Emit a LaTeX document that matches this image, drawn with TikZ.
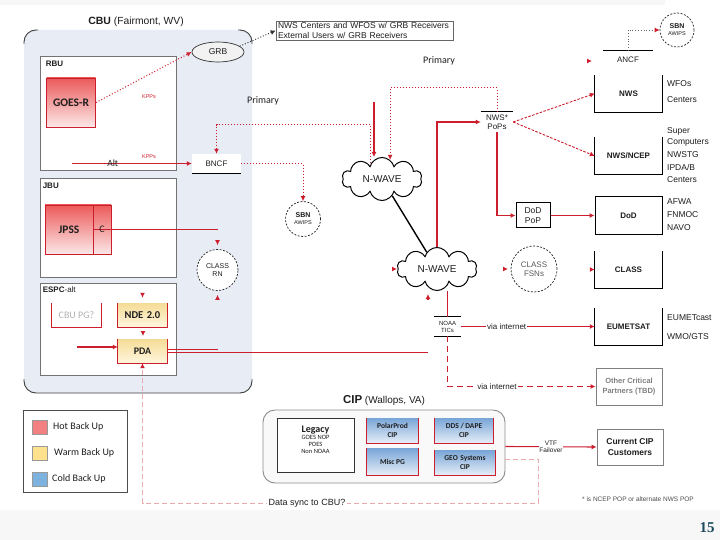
\documentclass[tikz,border=0pt]{standalone}
\usepackage{fontspec}
\setmainfont{Liberation Sans}
\newfontfamily\calfont{Carlito}
\newfontfamily\serfont{Liberation Serif}
\usetikzlibrary{shapes.symbols,shapes.geometric,arrows.meta,calc}
\definecolor{myred}{RGB}{205,30,45}
\definecolor{cbufill}{RGB}{231,236,245}
\definecolor{hottop}{RGB}{236,90,90}
\definecolor{hotbot}{RGB}{252,232,232}
\definecolor{hotleg}{RGB}{242,128,128}
\definecolor{warmtop}{RGB}{245,220,150}
\definecolor{warmbot}{RGB}{255,246,222}
\definecolor{warmleg}{RGB}{255,224,140}
\definecolor{coldtop}{RGB}{120,165,215}
\definecolor{coldbot}{RGB}{230,238,248}
\definecolor{coldleg}{RGB}{125,178,222}
\definecolor{pinkd}{RGB}{235,170,175}
\definecolor{pgnum}{RGB}{30,75,95}
\definecolor{txt}{RGB}{30,30,30}
\newcommand{\fsz}[2]{\fontsize{#1}{#2}\selectfont}
\newcommand{\opentopbox}[2][black]{\draw[#1, line width=1pt] (#2.north west) -- (#2.south west) -- (#2.south east) -- (#2.north east);}
\tikzset{
  rl/.style={draw=myred, line width=1.1pt},
  rtip/.style={-{Latex[length=5pt,width=5pt]}},
  ra/.style={rl, rtip},
  rdots/.style={draw=myred, line width=1pt, dash pattern=on 1pt off 2pt},
  rdash/.style={draw=myred, line width=0.9pt, dash pattern=on 2.5pt off 1.5pt},
  rdashed/.style={draw=myred, line width=1.1pt, dash pattern=on 6pt off 4pt},
  pinkdash/.style={draw=pinkd, line width=1pt, dash pattern=on 5pt off 3pt},
  kdots/.style={draw=black!80, line width=0.9pt, dash pattern=on 1pt off 1.8pt},
  wbox/.style={draw=black!55, fill=white, line width=0.8pt, inner sep=0},
  blabel/.style={anchor=north west, font=\fsz{8}{9}, inner sep=0},
  hotbox/.style={draw=myred, line width=0.9pt, top color=hottop, bottom color=hotbot, inner sep=0, font=\calfont\bfseries\fsz{11.5}{13}},
  warmbox/.style={top color=warmtop, bottom color=warmbot, inner sep=0, minimum width=49pt, minimum height=24pt, font=\calfont\bfseries\fsz{10.5}{12}},
  coldbox/.style={top color=coldtop, bottom color=coldbot, inner sep=0, align=center, font=\calfont\bfseries\fsz{7.5}{8.5}},
  dcirc/.style={circle, draw=black!85, line width=0.7pt, dash pattern=on 2pt off 1.5pt, fill=white, inner sep=0, align=center},
  nwave/.style={cloud, cloud puffs=10, cloud ignores aspect, draw=black, line width=1pt, fill=white, minimum width=80pt, minimum height=43pt, inner sep=0, font=\fsz{10}{12}},
  rbox/.style={minimum width=67pt, minimum height=37pt, inner sep=0, fill=white, font=\bfseries\fsz{8}{9}},
  side/.style={anchor=west, inner sep=0, font=\fsz{8.5}{10}},
  kpp/.style={text=myred, font=\fsz{5.5}{6}, inner sep=0},
  legsq/.style={minimum width=15pt, minimum height=14pt, draw=black!40, line width=0.4pt, inner sep=0},
  legtxt/.style={anchor=west, inner sep=0, font=\calfont\fsz{10}{12}},
  onl/.style={fill=white, inner sep=1pt, font=\fsz{8}{9}}
}
\begin{document}
\begin{tikzpicture}[x=1pt,y=-1pt, every node/.style={text=txt}]
\useasboundingbox (0,0) rectangle (720,540);
\fill[white] (0,0) rectangle (720,540);
\fill[gray!6] (0,510) rectangle (720,540);
\fill[gray!6] (0,0) rectangle (665,5);

% ---------------- CBU ----------------
\node[font=\fsz{10.3}{12}] (cbut) at (136,22) {\textbf{\fsz{10.5}{12}CBU} (Fairmont, WV)};
\fill[cbufill, rounded corners=12pt] (24,30) rectangle (252,393);
\draw[black!75, line width=0.9pt, rounded corners=12pt] (24,44) -- (24,30) -- (38,30);
\draw[black!75, line width=0.9pt, rounded corners=12pt] (238,30) -- (252,30) -- (252,44);
\draw[black!75, line width=0.9pt, rounded corners=12pt] (24,379) -- (24,393) -- (252,393) -- (252,379);

\node[wbox, minimum width=136pt, minimum height=114pt] (rbu) at (108,113) {};
\node[blabel, font=\bfseries\fsz{8}{9}] at ($(rbu.north west)+(6,5)$) {RBU};
\node[hotbox, minimum width=49pt, minimum height=49pt] (goes) at (71,102.5) {GOES-R};
\node[kpp] at (149,97) {KPPs};
\node[kpp] at (149,157) {KPPs};

\node[wbox, minimum width=136pt, minimum height=99pt] (jbu) at (108,227.5) {};
\node[blabel, font=\bfseries\fsz{8}{9}] at ($(jbu.north west)+(3,5)$) {JBU};
\node[hotbox, minimum width=48pt, minimum height=49pt] (jpss) at (69,229.5) {JPSS};
\node[hotbox, minimum width=18pt, minimum height=49pt] (cc) at (102,229.5) {};
\coordinate (jend) at (218,229.5);
\draw[rl] (jpss.east) -- (jend);
\node[font=\calfont\fsz{10}{12}, inner sep=0] at (cc) {C};

\node[wbox, minimum width=136pt, minimum height=92pt] (espc) at (108,329) {};
\node[blabel] at ($(espc.north west)+(3,4)$) {\textbf{ESPC}-alt};
\node[minimum width=49pt, minimum height=24pt, inner sep=0, text=gray!60, font=\calfont\fsz{10}{12}] (cbupg) at (76.5,315) {CBU PG?};
\opentopbox[myred]{cbupg}
\node[warmbox] (nde) at (142.5,315) {NDE\,\,2.0};
\opentopbox[myred]{nde}
\node[warmbox, font=\calfont\bfseries\fsz{10}{12}] (pda) at (142.5,351) {PDA};
\opentopbox[myred]{pda}

% BNCF, GRB
\node[fill=white, minimum width=49pt, minimum height=19pt, inner sep=0, font=\fsz{8}{9}] (bncf) at (216.5,163.5) {BNCF};
\draw[black, line width=1.1pt] (bncf.south west) -- (bncf.south east);
\node[ellipse, draw=black!80, fill=gray!10, line width=0.7pt, minimum width=52pt, minimum height=20pt, inner sep=0, font=\fsz{8.5}{10}] (grb) at (218,52) {GRB};
\node[draw=black!60, line width=0.7pt, inner xsep=2pt, inner ysep=1.5pt, align=left, text width=173pt, font=\fsz{8.5}{10}] (grbbox) at (364.5,30.5) {NWS Centers and WFOS w/ GRB Receivers\\External Users w/ GRB Receivers};

\node[dcirc, minimum size=41pt, font=\fsz{7}{8.5}] (classrn) at (217.5,270) {CLASS\\RN};
\node[dcirc, minimum size=35pt, font=\bfseries\fsz{7}{8}] (sbn1) at (303,219) {SBN\\[-1pt]{\mdseries\fsz{5.5}{6}AWIPS}};

% clouds
\node[nwave] (cl1) at (382,179) {N-WAVE};
\node[nwave] (cl2) at (437,269) {N-WAVE};
\draw[black, line width=1.4pt] (cl1) -- (cl2);

% PoPs, ANCF, SBN
\node[minimum width=32pt, minimum height=20pt, inner sep=0, align=center, font=\fsz{8}{9}] (pops) at (497,122) {NWS*\\PoPs};
\draw[black, line width=0.9pt] (pops.north west) -- (pops.north east);
\node[minimum width=49pt, minimum height=18pt, inner sep=0, font=\fsz{8}{9}] (ancf) at (628,60) {ANCF};
\draw[black, line width=0.9pt] (ancf.north west) -- (ancf.north east);
\node[dcirc, minimum size=34pt, font=\bfseries\fsz{7}{8}] (sbn2) at (677,30) {SBN\\[-1pt]{\mdseries\fsz{5.5}{6}AWIPS}};

% right boxes
\node[rbox] (nws) at (628.5,93.5) {NWS};
\opentopbox{nws}
\node[rbox] (ncep) at (628.5,156) {NWS/NCEP};
\opentopbox{ncep}
\node[rbox, draw=black, line width=1pt] (dod) at (628.5,215.5) {DoD};
\node[rbox] (class) at (628.5,269.5) {CLASS};
\opentopbox{class}
\node[rbox] (eumet) at (628.5,326.5) {EUMETSAT};
\opentopbox{eumet}
\node[draw=black!50, line width=0.9pt, minimum width=66pt, minimum height=37pt, inner sep=0, align=center, font=\bfseries\fsz{7.5}{9.5}, text=black!50] (other) at (629,386.5) {Other Critical\\Partners (TBD)};
\node[draw=black!50, line width=0.9pt, minimum width=66pt, minimum height=36pt, inner sep=0, align=center, font=\bfseries\fsz{8.5}{10.5}] (cust) at (630,447) {Current CIP\\Customers};

\node[side] at (667,84) {WFOs};
\node[side] at (667,100) {Centers};
\node[side] at (667,131) {Super};
\node[side] at (667,142.5) {Computers};
\node[side] at (667,155) {NWSTG};
\node[side] at (667,167.5) {IPDA/B};
\node[side] at (667,180) {Centers};
\node[side] at (667,202) {AFWA};
\node[side] at (667,214.5) {FNMOC};
\node[side] at (667,228) {NAVO};
\node[side] at (667,318) {EUMETcast};
\node[side] at (667,336) {WMO/GTS};

\node[draw=black, line width=1pt, minimum width=34pt, minimum height=25pt, inner sep=0, align=center, font=\fsz{8.5}{9.5}] (dodpop) at (533,215.5) {DoD\\PoP};
\node[dcirc, minimum size=46pt, font=\fsz{8}{9.5}, text=black!65] (classfsn) at (534,269) {CLASS\\FSNs};
\node[minimum width=27pt, minimum height=19pt, inner sep=0, align=center, font=\fsz{6}{7}] (tics) at (447.5,326.5) {NOAA\\TICs};
\draw[black, line width=0.9pt] (tics.north west) -- (tics.north east);
\draw[black, line width=0.9pt] (tics.south west) -- (tics.south east);

% ---------------- CIP ----------------
\node[font=\fsz{10}{12}] (cipt) at (384,401) {\textbf{\fsz{11.5}{13}CIP} (Wallops, VA)};
\node[draw=black!45, fill=gray!5, rounded corners=12pt, line width=0.9pt, minimum width=242pt, minimum height=73pt, inner sep=0] (cip) at (384,446.5) {};
\node[draw=black!80, fill=white, line width=0.8pt, minimum width=77pt, minimum height=54pt, inner sep=0] (legacy) at (315.5,445) {};
\node[align=center, font=\calfont\fsz{6.5}{7}, inner sep=0] at (315.5,440) {{\bfseries\fsz{10}{11}Legacy}\\GOES NOP\\POES\\Non NOAA};
\node[coldbox, minimum width=51pt, minimum height=25pt] (polar) at (392.5,430.5) {PolarProd\\CIP};
\opentopbox[myred]{polar}
\node[coldbox, minimum width=51pt, minimum height=27pt] (misc) at (392.5,461.5) {Misc PG};
\opentopbox[myred]{misc}
\node[coldbox, minimum width=58pt, minimum height=25pt] (dds) at (464,430.5) {DDS / DAPE\\CIP};
\opentopbox[myred]{dds}
\node[coldbox, minimum width=60pt, minimum height=25pt] (geo) at (465,462.5) {GEO\,\,Systems\\CIP};
\opentopbox[myred]{geo}

% ---------------- Legend ----------------
\node[draw=black!70, line width=0.8pt, minimum width=104pt, minimum height=82pt, inner sep=0] (legend) at (75,451) {};
\node[legsq, fill=hotleg] (lh) at (39.5,427) {};
\node[legsq, fill=warmleg] (lw) at (39.5,453) {};
\node[legsq, fill=coldleg] (lc) at (39.5,479) {};
\node[legtxt] at (53,427) {Hot Back Up};
\node[legtxt] at (54,453) {Warm Back Up};
\node[legtxt] at (52,479) {Cold Back Up};

% ---------------- connectors ----------------
\draw[rdots, rtip] (goes.east) -- (grb.west);
\draw[kdots, -{Latex[length=5pt,width=5pt]}] (grb.15) -- (grbbox.west);
\coordinate (altin) at (72,163.5);
\draw[ra] (altin) -- (bncf.west) node[pos=0.34, inner sep=0, font=\calfont\fsz{9.5}{11}] {Alt};
\node[font=\calfont\fsz{10}{12}] at (263,101) {Primary};
\node[font=\calfont\fsz{10}{12}] at (439,61) {Primary};
\draw[rdots, rtip] (cl1.125) |- ($(bncf.north)+(0,-29)$) -- (bncf.north);
\draw[rdots, rtip] (bncf.east) -| (sbn1.north);
\coordinate (nwin) at (374,102);
\draw[ra] (nwin) -- (nwin |- cl1.north);
\draw[rdots, rtip] (pops.north) -- ++(0,-24) -| (cl1.67);
\draw[ra] (cl2.north) |- (pops.west);
\draw[rdash, rtip] (pops.east) -- (nws.west);
\draw[rdash, rtip] (pops.east) -- (ncep.west);
\draw[ra] (pops.south) |- (dodpop.west);
\draw[ra] (dodpop.east) -- (dod.west);
\draw[rl] (tics.north) -- (tics.north |- cl2.south);
\draw[ra] (tics.east) -- node[pos=0.34, onl] {via internet} (eumet.west);
\draw[rdashed, rtip] (tics.south) |- node[pos=0.667, onl] {via internet} (other.west);
\draw[kdots, draw=black!60, -{Latex[length=5pt,width=5pt,color=myred]}] (ancf.north) |- (sbn2.west);
\coordinate (anin) at (587,61);
\draw[ra] (anin) -- ++(5,0);
\draw[ra] (cip.east) -- node[pos=0.5, fill=white, inner sep=0.5pt, align=center, font=\fsz{6.5}{7.5}] {VTF\\Failover} (cust.west);
\coordinate (dsc) at (538,503);
\draw[pinkdash, -{Latex[length=5pt,width=5pt,color=myred]}] ($(cip.east)+(0,12.5)$) -| (dsc) -| (pda.south);
\node[fill=white, inner sep=1.5pt, font=\fsz{9}{10}] at (307,503) {Data sync to CBU?};

% PDA and JPSS outputs
\coordinate (pdaend) at (428,352.5);
\draw[rl] ($(pda.east)+(0,-1.5)$) -- ++(51,0);
\draw[rl] ($(pda.east)+(0,1.5)$) -- (pdaend);
\coordinate (pdain) at (77,347);
\draw[ra] (pdain) -- (pdain -| pda.west);

% lone arrow tips
\draw[ra] ($(classrn.north)+(0,-9)$) -- ($(classrn.north)+(0,-4)$);
\draw[ra] ($(classrn.south)+(0,9)$) -- ($(classrn.south)+(0,4)$);
\draw[ra] ($(nde.north)+(0,-10)$) -- ($(nde.north)+(0,-5)$);
\draw[ra] (143,331) -- (143,336);
\draw[ra] (392,269) -- (397,269);
\draw[ra] (428,299) -- (428,294);
\draw[ra] (503,269) -- (508,269);
\draw[ra] ($(class.west)+(-5,0)$) -- (class.west);

% footnote and page number
\node[font=\fsz{6.5}{8}, text=black!70] at (638,499) {* is NCEP POP or alternate NWS POP};
\node[font=\serfont\bfseries\fsz{15}{16}, text=pgnum] at (707,528) {15};
\end{tikzpicture}
\end{document}
